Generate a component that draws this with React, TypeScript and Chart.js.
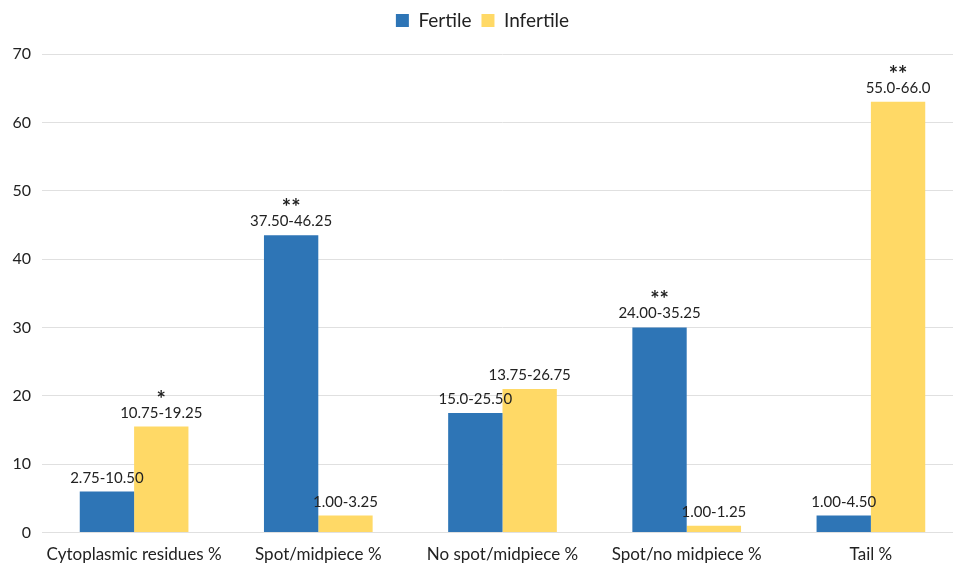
import React, { useEffect, useRef } from "react";
import { Chart, registerables } from "chart.js";

Chart.register(...registerables);

const categories = [
  "Cytoplasmic residues %",
  "Spot/midpiece %",
  "No spot/midpiece %",
  "Spot/no midpiece %",
  "Tail %",
];
const fertileValues = [6.0, 43.5, 17.5, 30.0, 2.5];
const infertileValues = [15.5, 2.5, 21.0, 1.0, 63.0];
const fertileRanges = ["2.75-10.50", "37.50-46.25", "15.0-25.50", "24.00-35.25", "1.00-4.50"];
const infertileRanges = ["10.75-19.25", "1.00-3.25", "13.75-26.75", "1.00-1.25", "55.0-66.0"];
const fertileStars = ["", "**", "", "**", ""];
const infertileStars = ["*", "", "", "", "**"];

const FONT = "Lato, 'Open Sans', sans-serif";

const labelPlugin = {
  id: "rangeLabels",
  afterDatasetsDraw(chart: any) {
    const ctx = chart.ctx;
    const rangeSets = [fertileRanges, infertileRanges];
    const starSets = [fertileStars, infertileStars];
    ctx.save();
    ctx.textAlign = "center";
    ctx.textBaseline = "alphabetic";
    chart.data.datasets.forEach((_: any, di: number) => {
      const meta = chart.getDatasetMeta(di);
      meta.data.forEach((bar: any, i: number) => {
        ctx.fillStyle = "#222";
        ctx.font = `15px ${FONT}`;
        ctx.fillText(rangeSets[di][i], bar.x, bar.y - 9);
        const s = starSets[di][i];
        if (s) {
          ctx.font = `bold 22px ${FONT}`;
          ctx.fillText(s, bar.x, bar.y - 20);
        }
      });
    });
    ctx.restore();
  },
};

export default function App() {
  const ref = useRef<HTMLCanvasElement | null>(null);
  useEffect(() => {
    document.body.style.margin = "0";
    document.body.style.overflow = "hidden";
    if (!ref.current) return;
    const chart = new Chart(ref.current, {
      type: "bar",
      data: {
        labels: categories,
        datasets: [
          {
            label: "Fertile",
            data: fertileValues,
            backgroundColor: "#2E75B6",
            categoryPercentage: 0.59,
            barPercentage: 1,
          },
          {
            label: "Infertile",
            data: infertileValues,
            backgroundColor: "#FFD966",
            categoryPercentage: 0.59,
            barPercentage: 1,
          },
        ],
      },
      options: {
        animation: false,
        responsive: false,
        maintainAspectRatio: false,
        layout: { padding: { left: 2, right: 0, top: 1, bottom: 0 } },
        plugins: {
          legend: {
            position: "top",
            labels: {
              font: { family: FONT, size: 19 },
              color: "#222",
              boxWidth: 13,
              boxHeight: 13,
              padding: 10,
            },
          },
          tooltip: { enabled: false },
        },
        scales: {
          x: {
            grid: { display: false },
            border: { display: false },
            ticks: { font: { family: FONT, size: 17 }, color: "#222", padding: 4 },
          },
          y: {
            min: 0,
            max: 70,
            afterFit: (scale: any) => { scale.width = 40; },
            ticks: { stepSize: 10, font: { family: FONT, size: 16 }, color: "#222", padding: 11 },
            grid: { color: "#e0e0e0", drawTicks: false },
            border: { display: false },
          },
        },
      },
      plugins: [
        labelPlugin,
        {
          id: "legendGap",
          beforeInit(chart: any) {
            const orig = chart.legend?.fit;
            if (chart.legend && orig) {
              chart.legend.fit = function () {
                orig.bind(this)();
                this.height += 14;
              };
            }
          },
        },
      ],
    });
    return () => chart.destroy();
  }, []);
  return (
    <div style={{ width: 963, height: 569, overflow: "hidden" }}>
      <canvas ref={ref} width={963} height={569} style={{ width: 963, height: 569 }} />
    </div>
  );
}
